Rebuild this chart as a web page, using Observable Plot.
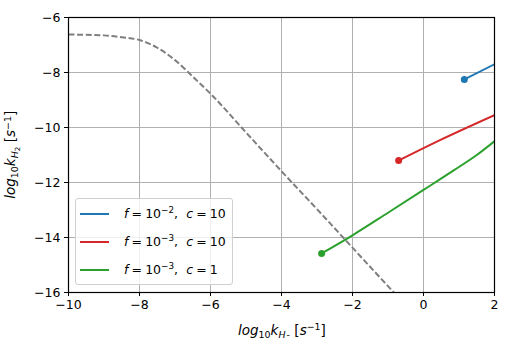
<!DOCTYPE html>
<html>
<head>
<meta charset="utf-8">
<script src="https://cdn.jsdelivr.net/npm/d3@7"></script>
<script src="https://cdn.jsdelivr.net/npm/@observablehq/plot@0.6"></script>
<style>
  html, body { margin: 0; padding: 0; background: white; }
  #wrap { position: relative; width: 520px; height: 340px; font-family: "DejaVu Sans", sans-serif; color: black; }
  #wrap svg { position: absolute; left: 0; top: 0; }
  .lbl { position: absolute; font-size: 13.5px; white-space: nowrap; line-height: 1; }
  .lbl sub { font-size: 70%; line-height: 0; vertical-align: -0.3em; }
  .lbl sup { font-size: 70%; line-height: 0; vertical-align: 0.5em; }
  #legend { position: absolute; left: 75px; top: 198px; width: 158px; height: 87px; border: 1px solid #d0d0d0; border-radius: 3px; background: rgba(255,255,255,0.8); box-sizing: border-box; }
  .entry { position: absolute; left: 4px; height: 20px; font-size: 12.5px; white-space: nowrap; }
  .entry .sw { position: absolute; left: 0; top: 9px; width: 29px; height: 0; border-top: 2px solid; }
  .entry .tx { position: absolute; left: 44px; top: 2px; }
  .entry sup { font-size: 70%; line-height: 0; vertical-align: 0.55em; }
</style>
</head>
<body>
<div id="wrap"></div>
<script>
// axis ticks
const xTicks = [-10, -8, -6, -4, -2, 0, 2];
const yTicks = [-16, -14, -12, -10, -8, -6];

// dashed reference curve
const dashX = [-10, -9.5, -9, -8.5, -8, -7.5, -7, -6.5, -6, -5, -4, -3, -2, -1, -0.5];
const dashY = [-6.62, -6.63, -6.65, -6.72, -6.82, -7.1, -7.55, -8.15, -8.77, -10.18, -11.59, -12.97, -14.37, -15.77, -16.47];

// series
const seriesNames = ["f=1e-2, c=10", "f=1e-3, c=10", "f=1e-3, c=1"];
const seriesColors = ["#1f77b4", "#d62728", "#2ca02c"];
const blueX = [1.15, 2];
const blueY = [-8.25, -7.7];
const redX = [-0.70, 0.48, 2];
const redY = [-11.2, -10.45, -9.55];
const greenX = [-2.87, -2, -1, 0, 0.85, 1.5, 2];
const greenY = [-14.58, -13.92, -13.1, -12.27, -11.56, -11.0, -10.5];

const dashed = dashX.map((x, i) => ({x, y: dashY[i]}));
const seriesXs = [blueX, redX, greenX];
const seriesYs = [blueY, redY, greenY];
const lines = seriesNames.flatMap((s, k) => seriesXs[k].map((x, i) => ({s, x, y: seriesYs[k][i]})));
const starts = seriesNames.map((s, k) => ({s, x: seriesXs[k][0], y: seriesYs[k][0]}));

const chart = Plot.plot({
  width: 520, height: 340,
  marginLeft: 68, marginRight: 26, marginTop: 17, marginBottom: 48,
  style: {fontFamily: "DejaVu Sans", fontSize: "12.5px", background: "white", color: "black"},
  x: {domain: [-10, 2], label: null},
  y: {domain: [-16, -6], label: null},
  color: {domain: seriesNames, range: seriesColors},
  marks: [
    Plot.gridX(xTicks, {stroke: "#b0b0b0", strokeOpacity: 1, strokeWidth: 1}),
    Plot.gridY(yTicks, {stroke: "#b0b0b0", strokeOpacity: 1, strokeWidth: 1}),
    Plot.line(dashed, {x: "x", y: "y", curve: "monotone-x", stroke: "#7f7f7f", strokeWidth: 2, strokeDasharray: "6 2.6", strokeLinecap: "butt", clip: true}),
    Plot.line(lines, {x: "x", y: "y", z: "s", stroke: "s", strokeWidth: 2, curve: "monotone-x", clip: true}),
    Plot.dot(starts, {x: "x", y: "y", fill: "s", r: 3.5}),
    Plot.frame({stroke: "black", strokeWidth: 1.2}),
    Plot.axisX({ticks: xTicks, tickSize: 4, tickPadding: 4, label: null, fontSize: 12.5}),
    Plot.axisY({ticks: yTicks, tickSize: 4, tickPadding: 4, label: null, fontSize: 12.5})
  ]
});
const wrap = document.getElementById("wrap");
wrap.appendChild(chart);

// axis labels
const xl = document.createElement("div");
xl.className = "lbl";
xl.innerHTML = '<i>log</i><sub>10</sub><i>k</i><sub><i>H</i>&#8202;-</sub>&#8196;[<i>s</i><sup>−1</sup>]';
wrap.appendChild(xl);
xl.style.left = (282 - xl.offsetWidth / 2) + "px";
xl.style.top = (331 - xl.offsetHeight / 2) + "px";

const yl = document.createElement("div");
yl.className = "lbl";
yl.innerHTML = '<i>log</i><sub>10</sub><i>k</i><sub><i>H</i><sub style="font-size:75%;vertical-align:-0.2em">2</sub></sub>&#8196;[<i>s</i><sup>−1</sup>]';
wrap.appendChild(yl);
const w = yl.offsetWidth, h = yl.offsetHeight;
yl.style.left = (11 - w / 2) + "px";
yl.style.top = (154.5 - h / 2) + "px";
yl.style.transform = "rotate(-90deg)";

// legend
const legend = document.createElement("div");
legend.id = "legend";
const legendTexts = [
  '<i>f</i>&#8197;=&#8197;10<sup>−2</sup>,&#8196;&#8196;<i>c</i>&#8197;=&#8197;10',
  '<i>f</i>&#8197;=&#8197;10<sup>−3</sup>,&#8196;&#8196;<i>c</i>&#8197;=&#8197;10',
  '<i>f</i>&#8197;=&#8197;10<sup>−3</sup>,&#8196;&#8196;<i>c</i>&#8197;=&#8197;1'
];
seriesColors.forEach((c, i) => {
  const e = document.createElement("div");
  e.className = "entry";
  e.style.top = (5 + i * 28) + "px";
  e.innerHTML = `<span class="sw" style="border-color:${c}"></span><span class="tx">${legendTexts[i]}</span>`;
  legend.appendChild(e);
});
wrap.appendChild(legend);
</script>
</body>
</html>
